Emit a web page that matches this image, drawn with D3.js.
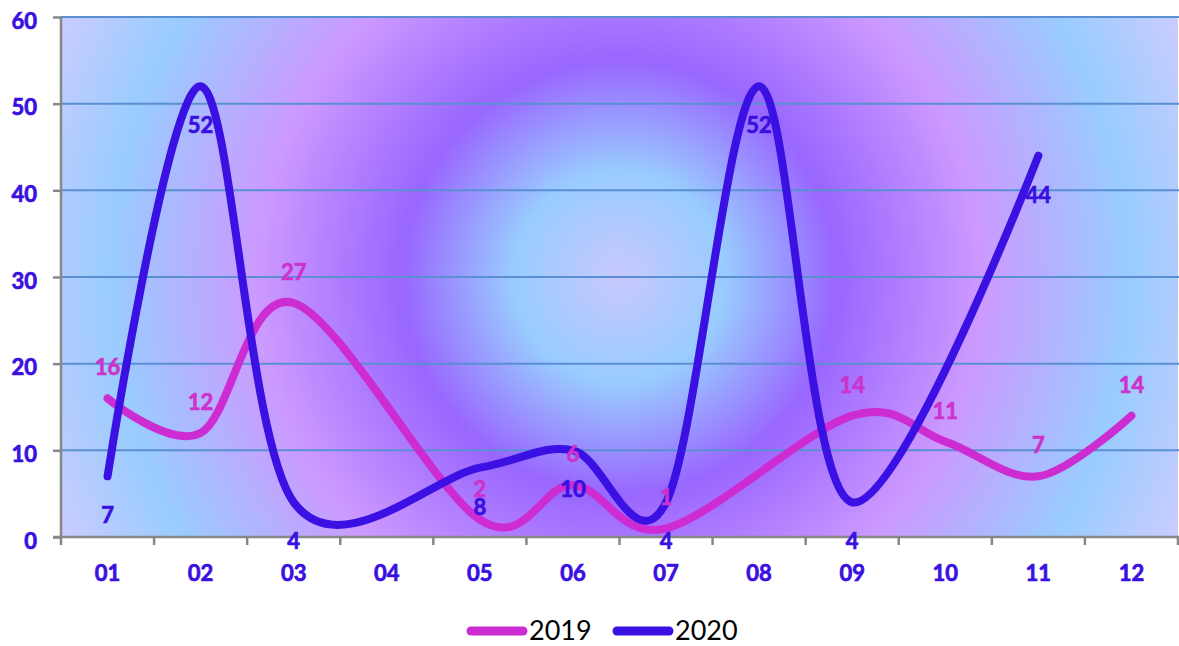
<!DOCTYPE html>
<html>
<head>
<meta charset="utf-8">
<script src="https://cdn.jsdelivr.net/npm/d3@7"></script>
<style>
  html, body { margin: 0; padding: 0; background: #ffffff; }
  svg { display: block; }
</style>
</head>
<body>
<svg id="chart" width="1179" height="646"></svg>
<script>
// ---- data ----
const months = ["01","02","03","04","05","06","07","08","09","10","11","12"];
const values2019 = [16, 12, 27, null, 2, 6, 1, null, 14, 11, 7, 14];
const values2020 = [7, 52, 4, null, 8, 10, 4, 52, 4, null, 44, null];
const seriesNames = ["2019", "2020"];
const yTicks = [0, 10, 20, 30, 40, 50, 60];

const colors = {"2019": "#cc2cd2", "2020": "#3a10e3"};
const labelColors = {"2019": "#cc33cc", "2020": "#3a10e0"};
const FONT = "Lato, 'Open Sans', sans-serif";

const svg = d3.select("#chart");
const pLeft = 61, pRight = 1178, pTop = 17, pBottom = 537;

const x = d3.scaleBand().domain(months).range([pLeft, pRight]).paddingInner(0).paddingOuter(0);
const y = d3.scaleLinear().domain([0, 60]).range([pBottom, pTop]);

// background gradient
const defs = svg.append("defs");
const grad = defs.append("radialGradient")
  .attr("id", "bg")
  .attr("gradientUnits", "userSpaceOnUse")
  .attr("cx", (pLeft + pRight) / 2).attr("cy", (pTop + pBottom) / 2)
  .attr("r", 620);
[[0, "#c8c8ff"], [0.17, "#99ccff"], [0.35, "#9966ff"], [0.58, "#cc99ff"], [0.82, "#99ccff"], [1, "#ccccff"]]
  .forEach(([o, c]) => grad.append("stop").attr("offset", o).attr("stop-color", c));

svg.append("rect")
  .attr("x", pLeft).attr("y", pTop)
  .attr("width", pRight - pLeft).attr("height", pBottom - pTop)
  .attr("fill", "url(#bg)");

// gridlines
svg.append("g").selectAll("line")
  .data(yTicks.filter(d => d > 0))
  .join("line")
  .attr("x1", pLeft).attr("x2", 1179)
  .attr("y1", d => y(d)).attr("y2", d => y(d))
  .attr("stroke", "#5a8fd1").attr("stroke-width", 2);

function boldText(sel, color) {
  sel.attr("fill", color)
    .attr("stroke", color).attr("stroke-width", 0.7)
    .style("font-family", FONT)
    .style("font-weight", "bold").style("font-size", "22px");
}

// y axis
const yAxis = svg.append("g")
  .attr("transform", `translate(${pLeft},0)`)
  .call(d3.axisLeft(y).tickValues(yTicks).tickSize(8).tickPadding(16).tickFormat(d3.format("d")));
yAxis.select(".domain").attr("stroke", "#878787").attr("stroke-width", 2.5).attr("d", `M0,${pTop}V${pBottom}`);
yAxis.selectAll(".tick line").attr("stroke", "#878787").attr("stroke-width", 2.5);
yAxis.selectAll(".tick text").attr("dy", "0.5em").call(boldText, "#3a10e0");

// x axis
const xAxis = svg.append("g")
  .attr("transform", `translate(0,${pBottom})`)
  .call(d3.axisBottom(x).tickSize(0).tickPadding(0));
xAxis.select(".domain").remove();
xAxis.selectAll(".tick text").attr("y", 44).attr("dy", 0).call(boldText, "#3a10e0");
const boundaries = months.map(m => x(m)).concat([x(months[months.length - 1]) + x.bandwidth()]);
svg.append("g").selectAll("line")
  .data(boundaries)
  .join("line")
  .attr("x1", d => d).attr("x2", d => d)
  .attr("y1", pBottom).attr("y2", pBottom + 8)
  .attr("stroke", "#878787").attr("stroke-width", 2.5);
svg.append("line")
  .attr("x1", pLeft - 8).attr("x2", 1179)
  .attr("y1", pBottom).attr("y2", pBottom)
  .attr("stroke", "#878787").attr("stroke-width", 2.5);

// series lines
const series = [
  {name: "2019", values: values2019},
  {name: "2020", values: values2020}
];
const line = d3.line()
  .x(d => x(d.m) + x.bandwidth() / 2)
  .y(d => y(d.v))
  .curve(d3.curveCardinal.tension(0));

series.forEach(s => {
  const pts = months.map((m, i) => ({m, v: s.values[i]})).filter(d => d.v !== null);
  s.pts = pts;
  svg.append("path")
    .datum(pts)
    .attr("d", line)
    .attr("fill", "none")
    .attr("stroke", colors[s.name])
    .attr("stroke-width", 8)
    .attr("stroke-linecap", "round")
    .attr("stroke-linejoin", "round");
});

// data labels
series.forEach(s => {
  const off = s.name === "2019" ? -31 : 39;
  svg.append("g").selectAll("text")
    .data(s.pts)
    .join("text")
    .attr("x", d => x(d.m) + x.bandwidth() / 2)
    .attr("y", d => y(d.v) + off)
    .attr("dy", "0.36em")
    .attr("text-anchor", "middle")
    .call(boldText, labelColors[s.name])
    .text(d => d.v);
});

// legend
const legend = svg.append("g").attr("transform", "translate(467,631)");
const items = legend.selectAll("g").data(seriesNames).join("g")
  .attr("transform", (d, i) => `translate(${i * 146},0)`);
items.append("line")
  .attr("x1", 4).attr("x2", 56).attr("y1", 0).attr("y2", 0)
  .attr("stroke", d => colors[d]).attr("stroke-width", 9).attr("stroke-linecap", "round");
items.append("text")
  .attr("x", 62).attr("y", 9)
  .attr("fill", "#000")
  .style("font-family", FONT)
  .style("font-size", "27px")
  .text(d => d);
</script>
</body>
</html>
